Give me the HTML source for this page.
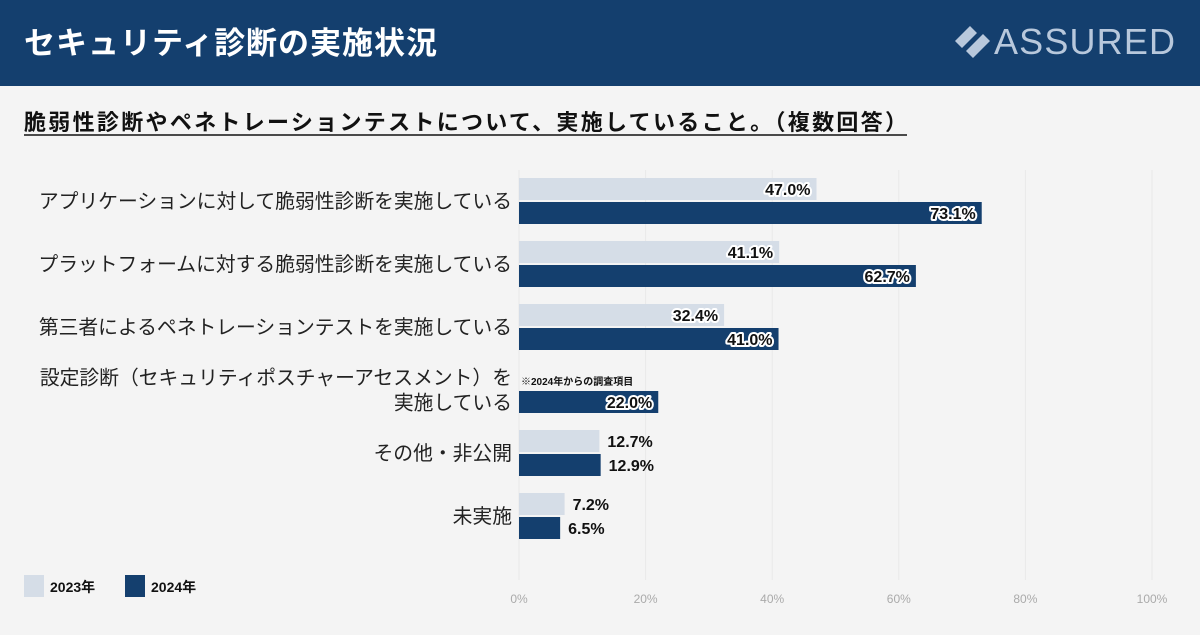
<!DOCTYPE html>
<html><head><meta charset="utf-8">
<style>
body{margin:0;width:1200px;height:630px;background:#f4f4f4;font-family:"Liberation Sans","Noto Sans CJK JP",sans-serif;overflow:hidden}
svg text{font-family:"Liberation Sans","Noto Sans CJK JP",sans-serif}
</style></head><body>
<svg width="1200" height="630">
<rect x="0" y="0" width="1200" height="86" fill="#143f6e"/>
<text x="24" y="54" font-size="31" font-weight="bold" fill="#fff" textLength="413">セキュリティ診断の実施状況</text>
<g>
<path d="M970 26 L955 41 L962 48 L977 33 Z M973 58 L990 41 L983 34 L966 51 Z" fill="#b8c8dc"/>
<text x="994" y="54" font-size="36" fill="#b8c8dc" textLength="181">ASSURED</text>
</g>
<text x="24" y="130" font-size="22" font-weight="bold" fill="#111" textLength="883">脆弱性診断やペネトレーションテストについて、実施していること。（複数回答）</text>
<line x1="24" y1="135" x2="907" y2="135" stroke="#111" stroke-width="1.5"/>
<g id="grid"></g><g id="bars"></g><g id="labels"></g>
<g>
<rect x="24" y="575" width="20" height="22" fill="#d5dde7"/>
<text x="50" y="592" font-size="14" font-weight="bold" fill="#111">2023年</text>
<rect x="125" y="575" width="20" height="22" fill="#143f6e"/>
<text x="151" y="592" font-size="14" font-weight="bold" fill="#111">2024年</text>
</g>
</svg>
<script>
const categories=[["アプリケーションに対して脆弱性診断を実施している"],["プラットフォームに対する脆弱性診断を実施している"],["第三者によるペネトレーションテストを実施している"],["設定診断（セキュリティポスチャーアセスメント）を","実施している"],["その他・非公開"],["未実施"]];
const values2023=[47.0,41.1,32.4,null,12.7,7.2];
const values2024=[73.1,62.7,41.0,22.0,12.9,6.5];
const ticks=[0,20,40,60,80,100];
const NS="http://www.w3.org/2000/svg";
const x0=519,x1=1152,rowTop=178,rowH=63,bh=22;
const xs=v=>x0+(x1-x0)*v/100;
function mk(t,a,p){const e=document.createElementNS(NS,t);for(const k in a)e.setAttribute(k,a[k]);p.appendChild(e);return e;}
const grid=document.getElementById('grid'),bars=document.getElementById('bars'),labels=document.getElementById('labels');
ticks.forEach(t=>{
 const l=mk('line',{x1:xs(t),x2:xs(t),y1:170,y2:580,stroke:'#e9e9e9','stroke-width':1},grid);
 
 
 const tx=mk('text',{x:xs(t),y:603,'font-size':12,fill:'#aaa','text-anchor':'middle'},grid);
 tx.textContent=t+'%';
 
 
});
function bar(v,y,fill,name){
 const r=mk('rect',{x:x0,y:y,width:xs(v)-x0,height:bh,fill:fill},bars);
 
 
 const txt=v.toFixed(1)+'%';
 const w=xs(v)-x0;
 let t;
 if(w>90){t=mk('text',{x:xs(v)-6,y:y+17,'font-size':16,'font-weight':'bold',fill:'#111','text-anchor':'end',stroke:'#fff','stroke-width':4,'paint-order':'stroke','stroke-linejoin':'round'},labels);}
 else{t=mk('text',{x:xs(v)+8,y:y+17,'font-size':16,'font-weight':'bold',fill:'#111'},labels);}
 t.textContent=txt;
 
 
}
categories.forEach((c,i)=>{
 const y=rowTop+i*rowH;
 if(values2023[i]!=null)bar(values2023[i],y,'#d5dde7','bar-2023');
 bar(values2024[i],y+bh+2,'#143f6e','bar-2024');
 const cy=y+bh+1;
 c.forEach((line,j)=>{
  const t=mk('text',{x:512,y:cy+7+(j-(c.length-1)/2)*25,'font-size':19.8,fill:'#222','text-anchor':'end'},labels);
  t.textContent=line;
  
  
 });
 if(values2023[i]==null){
  const n=mk('text',{x:521,y:y+18,'font-size':10,'font-weight':'bold',fill:'#111'},labels);
  n.textContent='※2024年からの調査項目';
  
  
 }
});
</script>
</body></html>
